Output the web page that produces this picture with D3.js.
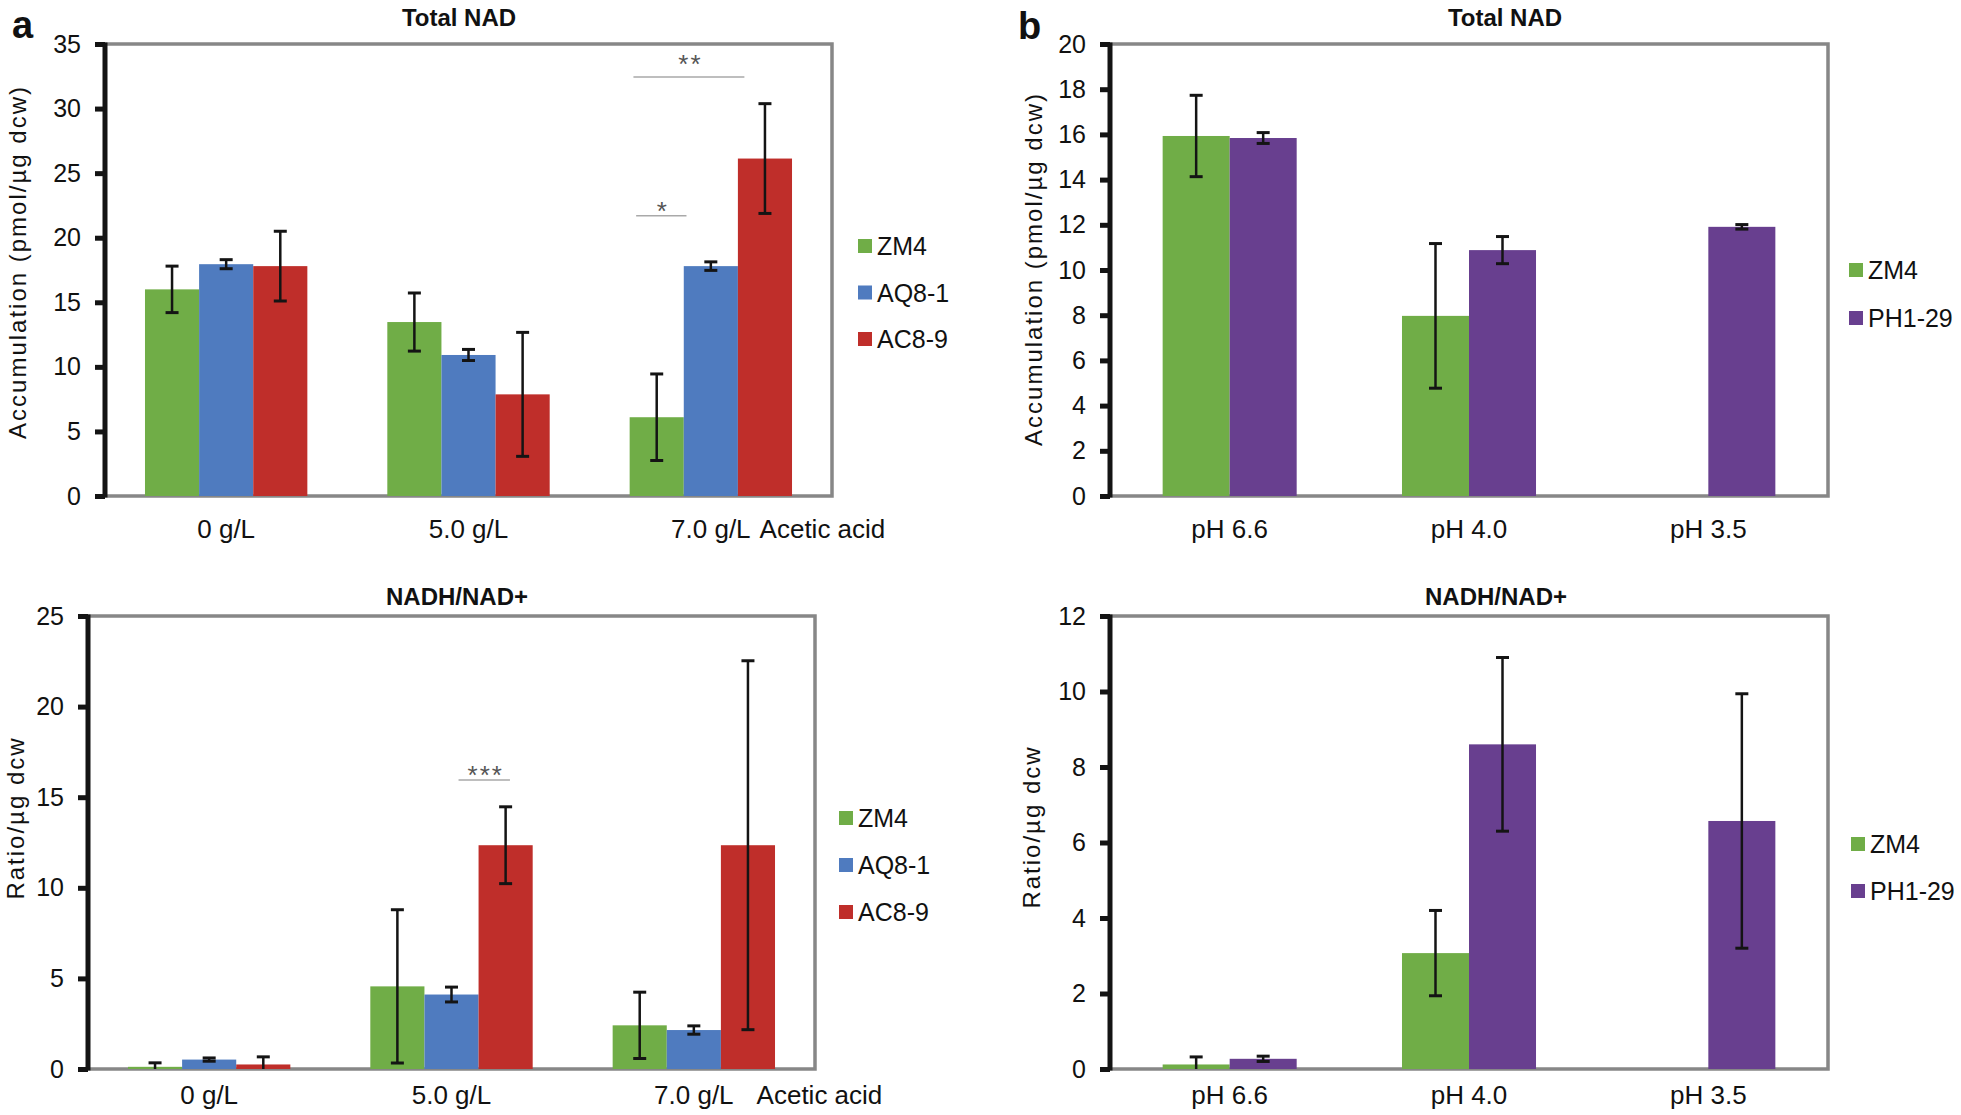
<!DOCTYPE html>
<html>
<head>
<meta charset="utf-8">
<script src="https://cdn.jsdelivr.net/npm/d3@7"></script>
<style>
  html, body { margin: 0; padding: 0; background: #fff; }
  svg { display: block; }
  text { font-family: "Liberation Sans", Arial, Helvetica, sans-serif; fill: #111; }
</style>
</head>
<body>
<svg id="chart" width="1961" height="1115"></svg>
<script>
// ---------------- DATA ----------------
const categoriesA = ["0 g/L", "5.0 g/L", "7.0 g/L"];
const seriesA = ["ZM4", "AQ8-1", "AC8-9"];
const yTicksTotalA = [0, 5, 10, 15, 20, 25, 30, 35];
const yTicksRatioA = [0, 5, 10, 15, 20, 25];

// Total NAD (pmol/µg dcw), panel a
const totalA_ZM4   = [16.0, 13.47, 6.1];
const totalA_AQ81  = [17.95, 10.92, 17.8];
const totalA_AC89  = [17.8, 7.87, 26.13];
const totalA_ZM4_err  = [1.8, 2.25, 3.35];
const totalA_AQ81_err = [0.35, 0.43, 0.33];
const totalA_AC89_err = [2.7, 4.8, 4.25];

// NADH/NAD+ ratio, panel a
const ratioA_ZM4   = [0.12, 4.56, 2.41];
const ratioA_AQ81  = [0.52, 4.11, 2.15];
const ratioA_AC89  = [0.25, 12.35, 12.35];
const ratioA_ZM4_err  = [0.22, 4.23, 1.83];
const ratioA_AQ81_err = [0.09, 0.41, 0.23];
const ratioA_AC89_err = [0.42, 2.12, 10.18];

const categoriesB = ["pH 6.6", "pH 4.0", "pH 3.5"];
const seriesB = ["ZM4", "PH1-29"];
const yTicksTotalB = [0, 2, 4, 6, 8, 10, 12, 14, 16, 18, 20];
const yTicksRatioB = [0, 2, 4, 6, 8, 10, 12];

// Total NAD, panel b (ZM4 not measured at pH 3.5)
const totalB_ZM4    = [15.93, 7.97, null];
const totalB_PH129  = [15.84, 10.88, 11.91];
const totalB_ZM4_err   = [1.8, 3.2, null];
const totalB_PH129_err = [0.24, 0.6, 0.1];

// NADH/NAD+ ratio, panel b
const ratioB_ZM4    = [0.12, 3.07, null];
const ratioB_PH129  = [0.27, 8.6, 6.57];
const ratioB_ZM4_err   = [0.2, 1.13, null];
const ratioB_PH129_err = [0.07, 2.3, 3.37];

// significance marks: category index, from series, to series, line value, label
const sigTotalA = [
  { cat: 2, from: 0, to: 1, value: 21.7, label: "*" },
  { cat: 2, from: 0, to: 2, value: 32.45, label: "**" }
];
const sigRatioA = [
  { cat: 1, from: 1, to: 2, value: 15.95, label: "***" }
];

// ---------------- STYLE ----------------
const colors = { "ZM4": "#70ad47", "AQ8-1": "#4f7bbf", "AC8-9": "#bf2e2a", "PH1-29": "#683f8f" };
const TICK_FONT = 25, XLABEL_FONT = 26, LEGEND_FONT = 25, YTITLE_FONT = 24, SIG_FONT = 26;

const svg = d3.select("#chart");

function drawPanel(cfg) {
  const { L, R, T, B } = cfg.frame;
  const g = svg.append("g");
  const x0 = d3.scaleBand().domain(cfg.categories).range([L, R])
    .paddingInner(cfg.pad).paddingOuter(cfg.pad / 2);
  const x1 = d3.scaleBand().domain(cfg.series).range([0, x0.bandwidth()]);
  const y = d3.scaleLinear().domain([0, cfg.ticks[cfg.ticks.length - 1]]).range([B, T]);

  // frame (gray top / right / bottom)
  g.append("path")
    .attr("d", `M${L},${T}H${R}V${B}H${L}`)
    .attr("fill", "none").attr("stroke", "#878787").attr("stroke-width", 3.5);

  // bars
  cfg.series.forEach((s, si) => {
    const vals = cfg.values[si];
    g.append("g").selectAll("rect")
      .data(cfg.categories.map((c, ci) => ({ c, v: vals[ci] })).filter(d => d.v != null))
      .join("rect")
      .attr("x", d => x0(d.c) + x1(s))
      .attr("width", x1.bandwidth())
      .attr("y", d => y(d.v))
      .attr("height", d => y(0) - y(d.v))
      .attr("fill", colors[s]);
  });

  // error bars
  cfg.series.forEach((s, si) => {
    const vals = cfg.values[si], errs = cfg.errors[si];
    cfg.categories.forEach((c, ci) => {
      if (vals[ci] == null) return;
      const cx = x0(c) + x1(s) + x1.bandwidth() / 2;
      const hi = vals[ci] + errs[ci];
      const lo = Math.max(0, vals[ci] - errs[ci]);
      const eg = g.append("g").attr("stroke", "#141414").attr("fill", "none");
      eg.append("line").attr("x1", cx).attr("x2", cx).attr("y1", y(hi)).attr("y2", y(lo)).attr("stroke-width", 2.5);
      eg.append("line").attr("x1", cx - 6.5).attr("x2", cx + 6.5).attr("y1", y(hi)).attr("y2", y(hi)).attr("stroke-width", 3);
      if (lo > 0) eg.append("line").attr("x1", cx - 6.5).attr("x2", cx + 6.5).attr("y1", y(lo)).attr("y2", y(lo)).attr("stroke-width", 3);
    });
  });

  // significance marks
  (cfg.sig || []).forEach(m => {
    const c = cfg.categories[m.cat];
    const bw = x1.bandwidth();
    const xs = x0(c) + x1(cfg.series[m.from]) + bw * m.f1;
    const xe = x0(c) + x1(cfg.series[m.to]) + bw * m.f2;
    g.append("line").attr("x1", xs).attr("x2", xe).attr("y1", y(m.value)).attr("y2", y(m.value))
      .attr("stroke", "#a9a9a9").attr("stroke-width", 1.6);
    g.append("text").attr("x", (xs + xe) / 2 + 1.5).attr("y", y(m.value) + m.dy + 0.57 * SIG_FONT)
      .attr("text-anchor", "middle").attr("font-size", SIG_FONT).attr("letter-spacing", 2)
      .style("fill", "#555").text(m.label);
  });

  // left axis
  const axis = d3.axisLeft(y).tickValues(cfg.ticks).tickSize(10).tickSizeOuter(0).tickPadding(14);
  const ag = g.append("g").attr("transform", `translate(${L},0)`).call(axis);
  ag.select(".domain").attr("stroke", "#141414").attr("stroke-width", 5)
    .attr("d", `M0,${T - 1.5}V${B + 1.5}`);
  ag.selectAll(".tick line").attr("stroke", "#141414").attr("stroke-width", 5);
  ag.selectAll(".tick text").attr("font-size", TICK_FONT).style("fill", "#111")
    .attr("font-family", null);

  // x labels
  const xl = g.append("g");
  let lastNode = null;
  cfg.categories.forEach(c => {
    lastNode = xl.append("text").attr("x", x0(c) + x0.bandwidth() / 2).attr("y", cfg.xLabelY)
      .attr("text-anchor", "middle").attr("font-size", XLABEL_FONT).text(c).node();
  });
  if (cfg.unitLabel) {
    const last = cfg.categories[cfg.categories.length - 1];
    const len = lastNode.getComputedTextLength();
    xl.append("text").attr("x", x0(last) + x0.bandwidth() / 2 + len / 2 + cfg.unitGap)
      .attr("y", cfg.xLabelY).attr("font-size", XLABEL_FONT).text(cfg.unitLabel);
  }

  // title
  g.append("text").attr("x", cfg.titleX).attr("y", cfg.titleY).attr("text-anchor", "middle")
    .attr("dominant-baseline", "central").attr("font-size", 24).attr("font-weight", "bold").text(cfg.title);

  // y title
  g.append("text").attr("transform", `translate(${cfg.yTitleX},${cfg.yTitleY}) rotate(-90)`)
    .attr("text-anchor", "middle").attr("dominant-baseline", "central")
    .attr("font-size", YTITLE_FONT).attr("letter-spacing", 2).text(cfg.yTitle);

  // legend
  const lg = g.append("g");
  cfg.series.forEach((s, i) => {
    const ly = cfg.legend.y0 + i * cfg.legend.dy;
    lg.append("rect").attr("x", cfg.legend.x).attr("y", ly - 7).attr("width", 14).attr("height", 14).attr("fill", colors[s]);
    lg.append("text").attr("x", cfg.legend.x + 19).attr("y", ly).attr("dominant-baseline", "central")
      .attr("font-size", LEGEND_FONT).text(s);
  });

  // panel letter
  if (cfg.letter) {
    g.append("text").attr("x", cfg.letter.x).attr("y", cfg.letter.y).attr("font-size", 38)
      .attr("font-weight", "bold").text(cfg.letter.t);
  }
}

// a - Total NAD
drawPanel({
  frame: { L: 105, R: 832, T: 44, B: 496 }, pad: 0.33,
  categories: categoriesA, series: seriesA, ticks: yTicksTotalA,
  values: [totalA_ZM4, totalA_AQ81, totalA_AC89],
  errors: [totalA_ZM4_err, totalA_AQ81_err, totalA_AC89_err],
  sig: [
    Object.assign({}, sigTotalA[0], { f1: 0.12, f2: 0.05, dy: -11 }),
    Object.assign({}, sigTotalA[1], { f1: 0.07, f2: 0.12, dy: -19 })
  ],
  xLabelY: 538, unitLabel: "Acetic acid", unitGap: 9,
  title: "Total NAD", titleX: 459, titleY: 17,
  yTitle: "Accumulation (pmol/µg dcw)", yTitleX: 17, yTitleY: 262,
  legend: { x: 858, y0: 246, dy: 46.5 },
  letter: { t: "a", x: 12, y: 38 }
});

// a - NADH/NAD+
drawPanel({
  frame: { L: 88, R: 815, T: 616, B: 1069 }, pad: 0.33,
  categories: categoriesA, series: seriesA, ticks: yTicksRatioA,
  values: [ratioA_ZM4, ratioA_AQ81, ratioA_AC89],
  errors: [ratioA_ZM4_err, ratioA_AQ81_err, ratioA_AC89_err],
  sig: [Object.assign({}, sigRatioA[0], { f1: 0.63, f2: 0.58, dy: -11 })],
  xLabelY: 1104, unitLabel: "Acetic acid", unitGap: 23,
  title: "NADH/NAD+", titleX: 457, titleY: 596,
  yTitle: "Ratio/µg dcw", yTitleX: 15, yTitleY: 818,
  legend: { x: 839, y0: 818, dy: 47 }
});

// b - Total NAD
drawPanel({
  frame: { L: 1110, R: 1828, T: 44, B: 496 }, pad: 0.44,
  categories: categoriesB, series: seriesB, ticks: yTicksTotalB,
  values: [totalB_ZM4, totalB_PH129],
  errors: [totalB_ZM4_err, totalB_PH129_err],
  xLabelY: 538,
  title: "Total NAD", titleX: 1505, titleY: 17,
  yTitle: "Accumulation (pmol/µg dcw)", yTitleX: 1033, yTitleY: 269,
  legend: { x: 1849, y0: 270, dy: 48 },
  letter: { t: "b", x: 1018, y: 39 }
});

// b - NADH/NAD+
drawPanel({
  frame: { L: 1110, R: 1828, T: 616, B: 1069 }, pad: 0.44,
  categories: categoriesB, series: seriesB, ticks: yTicksRatioB,
  values: [ratioB_ZM4, ratioB_PH129],
  errors: [ratioB_ZM4_err, ratioB_PH129_err],
  xLabelY: 1104,
  title: "NADH/NAD+", titleX: 1496, titleY: 596,
  yTitle: "Ratio/µg dcw", yTitleX: 1031, yTitleY: 827,
  legend: { x: 1851, y0: 844, dy: 47 }
});
</script>
</body>
</html>
